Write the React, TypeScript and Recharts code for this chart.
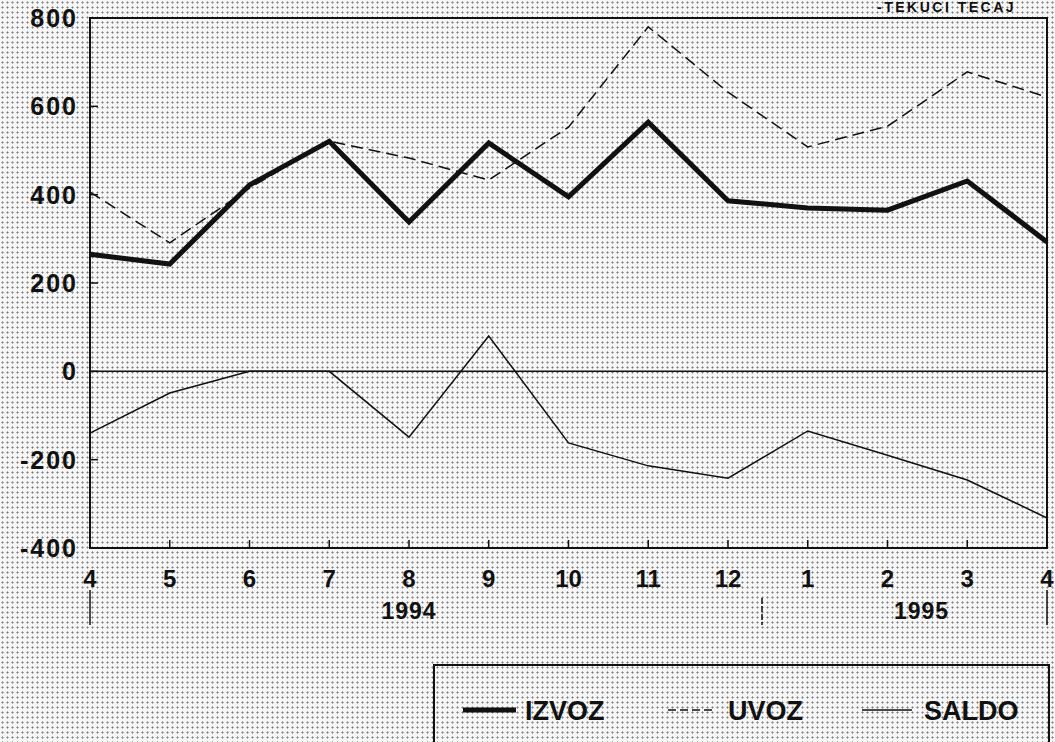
import React from 'react';
import { LineChart, Line, XAxis, YAxis, ReferenceLine, ReferenceArea } from 'recharts';

// mjeseci od 4/1994 do 4/1995
const mjeseci = ['4', '5', '6', '7', '8', '9', '10', '11', '12', '1', '2', '3', '4'];
const izvoz = [265, 243, 422, 521, 338, 517, 395, 564, 386, 370, 365, 431, 293];
const uvoz = [406, 291, 415, 521, 483, 433, 553, 780, 632, 508, 555, 678, 621];
const saldo = [-140, -49, 0, 0, -149, 80, -162, -214, -242, -135, -190, -246, -332];
const yTicks = [-400, -200, 0, 200, 400, 600, 800];
const godine = ['1994', '1995'];

const data = mjeseci.map((m, i) => ({ i, mjesec: m, izvoz: izvoz[i], uvoz: uvoz[i], saldo: saldo[i] }));

const FONT = '"Liberation Sans", Arial, sans-serif';

const serije = [
  { key: 'izvoz', name: 'IZVOZ', width: 5, dash: undefined as string | undefined },
  { key: 'uvoz', name: 'UVOZ', width: 1.5, dash: '12 6' },
  { key: 'saldo', name: 'SALDO', width: 1.5, dash: undefined as string | undefined },
];

const YTick = ({ x, y, payload }: any) => (
  <g>
    <text x={x} y={y} dy={9} textAnchor="end" fontFamily={FONT} fontWeight="bold" fontSize={25} fill="#111" letterSpacing={2}>
      {payload.value}
    </text>
    <line x1={x + 12} x2={x + 20} y1={y} y2={y} stroke="#111" strokeWidth={1.5} />
  </g>
);

const XTick = ({ x, y, payload }: any) => {
  const i = payload.value;
  return (
    <g>
      <line x1={x} x2={x} y1={y} y2={y - 8} stroke="#111" strokeWidth={1.5} />
      <text x={x} y={y + 39} textAnchor="middle" fontFamily={FONT} fontWeight="bold" fontSize={24} fill="#111">
        {mjeseci[i]}
      </text>
      {i === 0 && <line x1={x} x2={x} y1={y + 42} y2={y + 77} stroke="#111" strokeWidth={1.5} />}
      {i === 12 && <line x1={x} x2={x} y1={y + 42} y2={y + 77} stroke="#111" strokeWidth={1.5} />}
      {i === 8 && <line x1={x + 34} x2={x + 34} y1={y + 50} y2={y + 77} stroke="#111" strokeWidth={1.5} strokeDasharray="6 2" />}
      {i === 4 && (
        <text x={x} y={y + 71} textAnchor="middle" fontFamily={FONT} fontWeight="bold" fontSize={23} fill="#111" letterSpacing={1}>
          {godine[0]}
        </text>
      )}
      {i === 10 && (
        <text x={x + 34} y={y + 71} textAnchor="middle" fontFamily={FONT} fontWeight="bold" fontSize={23} fill="#111" letterSpacing={1}>
          {godine[1]}
        </text>
      )}
    </g>
  );
};

const Legenda = () => (
  <svg width={622} height={80} style={{ position: 'absolute', left: 433, top: 664, overflow: 'visible' }}>
    <rect x={1} y={1} width={615} height={100} fill="none" stroke="#111" strokeWidth={2} />
    {/* IZVOZ */}
    <line x1={30} x2={83} y1={46} y2={46} stroke="#111" strokeWidth={serije[0].width} />
    <text x={92} y={56} fontFamily={FONT} fontWeight="bold" fontSize={27} fill="#111">{serije[0].name}</text>
    {/* UVOZ */}
    <line x1={235} x2={280} y1={46} y2={46} stroke="#111" strokeWidth={serije[1].width} strokeDasharray="8 4" />
    <text x={295} y={56} fontFamily={FONT} fontWeight="bold" fontSize={27} fill="#111">{serije[1].name}</text>
    {/* SALDO */}
    <line x1={429} x2={479} y1={46} y2={46} stroke="#111" strokeWidth={serije[2].width} />
    <text x={491} y={56} fontFamily={FONT} fontWeight="bold" fontSize={27} fill="#111">{serije[2].name}</text>
  </svg>
);

export default function App() {
  return (
    <div
      style={{
        position: 'absolute',
        left: 0,
        top: 0,
        width: 1055,
        height: 742,
        overflow: 'hidden',
        backgroundColor: '#f6f6f6',
        backgroundImage: 'radial-gradient(circle, #808080 0.8px, transparent 1.3px)',
        backgroundSize: '5px 5px',
      }}
    >
      <div
        style={{
          position: 'absolute',
          left: 877,
          top: 0,
          fontFamily: FONT,
          fontWeight: 'bold',
          fontSize: 14,
          letterSpacing: 2.5,
          lineHeight: '15px',
          color: '#111',
        }}
      >
        -TEKUCI TECAJ
      </div>
      <LineChart
        width={1055}
        height={742}
        data={data}
        margin={{ top: 18, right: 8, left: 0, bottom: 154 }}
        style={{ position: 'absolute', left: 0, top: 0 }}
      >
        <XAxis
          dataKey="i"
          type="category"
          height={40}
          tickSize={0}
          tickMargin={0}
          tick={<XTick />}
          interval={0}
          axisLine={{ stroke: '#111', strokeWidth: 2 }}
          tickLine={false}
          padding={{ left: 0, right: 0 }}
        />
        <YAxis
          domain={[-400, 800]}
          ticks={yTicks}
          width={90}
          tickSize={0}
          tickMargin={12}
          tick={<YTick />}
          axisLine={{ stroke: '#111', strokeWidth: 2 }}
          tickLine={false}
          interval={0}
        />
        <ReferenceArea x1={0} x2={12} y1={-400} y2={800} fill="none" stroke="#111" strokeWidth={2} ifOverflow="visible" />
        <ReferenceLine y={0} stroke="#111" strokeWidth={1.5} />
        {serije.map((s) => (
          <Line
            key={s.key}
            dataKey={s.key}
            name={s.name}
            type="linear"
            stroke="#111"
            strokeWidth={s.width}
            strokeDasharray={s.dash}
            dot={false}
            strokeLinejoin="miter"
            isAnimationActive={false}
          />
        ))}
      </LineChart>
      <Legenda />
    </div>
  );
}
